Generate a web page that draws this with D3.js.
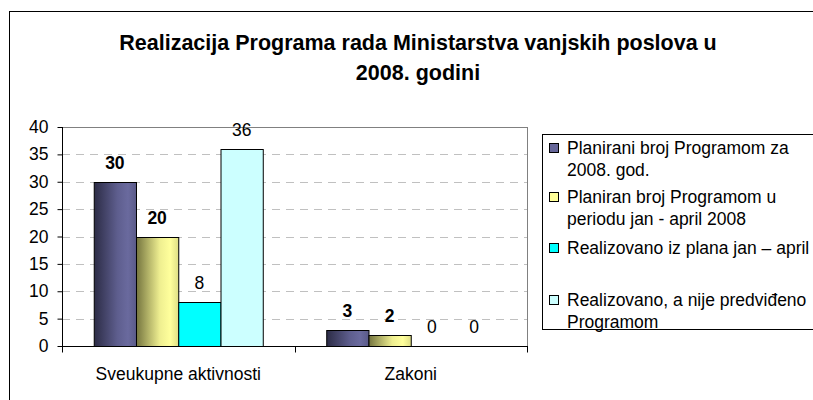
<!DOCTYPE html>
<html>
<head>
<meta charset="utf-8">
<script src="https://cdn.jsdelivr.net/npm/d3@7"></script>
<style>
  body { margin: 0; background: #fff; }
  svg text { font-family: "Liberation Sans", Arial, sans-serif; }
</style>
</head>
<body>
<div id="chart"></div>
<script>
// data
const categories = ["Sveukupne aktivnosti", "Zakoni"];
const seriesNames = [
  ["Planirani broj Programom za", "2008. god."],
  ["Planiran broj Programom u", "periodu jan - april 2008"],
  ["Realizovano iz plana jan \u2013 april"],
  ["Realizovano, a nije predviđeno", "Programom"]
];
const planGodina = [30, 3];
const planJanApril = [20, 2];
const realizovanoPlan = [8, 0];
const realizovanoVan = [36, 0];
const seriesValues = [planGodina, planJanApril, realizovanoPlan, realizovanoVan];
const yTicks = [0, 5, 10, 15, 20, 25, 30, 35, 40];
const titleLines = ["Realizacija Programa rada Ministarstva vanjskih poslova u", "2008. godini"];

const width = 813, height = 400;
const plot = { left: 62, right: 527, top: 127, bottom: 346 };

const svg = d3.select("#chart").append("svg")
  .attr("width", width)
  .attr("height", height);

// gradients for the first two series
const defs = svg.append("defs");
const grads = [
  { id: "g0", stops: [["0%", "#2c2c46"], ["55%", "#5e5e8e"], ["80%", "#6a6a9e"], ["100%", "#5a5a88"]] },
  { id: "g1", stops: [["0%", "#75753f"], ["55%", "#eeee90"], ["80%", "#ffff9c"], ["100%", "#dede84"]] }
];
grads.forEach(g => {
  const lg = defs.append("linearGradient").attr("id", g.id)
    .attr("x1", "0%").attr("x2", "100%").attr("y1", "0%").attr("y2", "0%");
  g.stops.forEach(s => lg.append("stop").attr("offset", s[0]).attr("stop-color", s[1]));
});
const fills = ["url(#g0)", "url(#g1)", "#00ffff", "#ccffff"];
const legendFills = ["#666699", "#ffff99", "#00ffff", "#ccffff"];

svg.append("rect").attr("width", width).attr("height", height).attr("fill", "#fff");
// outer chart border (runs off the right and bottom edge)
svg.append("rect")
  .attr("x", 9.5).attr("y", 11.5)
  .attr("width", width + 10).attr("height", height + 10)
  .attr("fill", "none").attr("stroke", "#000");

// title
svg.append("g").selectAll("text")
  .data(titleLines)
  .join("text")
  .attr("x", 418)
  .attr("y", (d, i) => 50 + i * 30)
  .attr("text-anchor", "middle")
  .attr("font-size", 21.5)
  .attr("font-weight", "bold")
  .text(d => d);

const y = d3.scaleLinear().domain([0, 40]).range([plot.bottom, plot.top]);
const x0 = d3.scaleBand().domain(categories).range([plot.left, plot.right])
  .paddingInner(0.273).paddingOuter(0.1365);
const x1 = d3.scaleBand().domain(d3.range(seriesValues.length)).range([0, x0.bandwidth()]);

// plot area frame
svg.append("rect")
  .attr("x", plot.left + 0.5).attr("y", plot.top + 0.5)
  .attr("width", plot.right - plot.left).attr("height", plot.bottom - plot.top)
  .attr("fill", "none").attr("stroke", "#808080");

// gridlines
svg.append("g").selectAll("line")
  .data(yTicks.filter(t => t > 0 && t < 40))
  .join("line")
  .attr("x1", plot.left).attr("x2", plot.right)
  .attr("y1", d => Math.round(y(d)) + 0.5).attr("y2", d => Math.round(y(d)) + 0.5)
  .attr("stroke", "#c0c0c0")
  .attr("stroke-dasharray", "8,6");

// bars
const groups = svg.append("g").selectAll("g")
  .data(categories)
  .join("g")
  .attr("transform", d => `translate(${x0(d)},0)`);

groups.each(function(cat, ci) {
  const g = d3.select(this);
  seriesValues.forEach((vals, si) => {
    const v = vals[ci];
    if (v > 0) {
      g.append("rect")
        .attr("x", x1(si) + 0.5)
        .attr("y", Math.round(y(v)) + 0.5)
        .attr("width", x1.bandwidth())
        .attr("height", Math.round(y(0)) - Math.round(y(v)))
        .attr("fill", fills[si])
        .attr("stroke", "#000");
    }
    g.append("text")
      .attr("x", x1(si) + x1.bandwidth() / 2)
      .attr("y", y(v) - 13)
      .attr("text-anchor", "middle")
      .attr("font-size", 17.5)
      .attr("font-weight", si < 2 ? "bold" : "normal")
      .text(v);
  });
});

// y axis
const yAxis = svg.append("g")
  .attr("transform", `translate(${plot.left + 0.5},0)`)
  .call(d3.axisLeft(y).tickValues(yTicks).tickSize(5).tickPadding(9));
yAxis.selectAll("text").attr("font-size", 17.5).attr("fill", "#000")
  .style("font-family", '"Liberation Sans", Arial, sans-serif');
yAxis.selectAll("line").attr("stroke", "#000");
yAxis.select(".domain").attr("stroke", "#000").attr("d", `M0,${plot.top}V${plot.bottom}`);

// x axis
const xAxisG = svg.append("g").attr("transform", `translate(0,${Math.round(y(0)) + 0.5})`);
xAxisG.append("line").attr("x1", plot.left).attr("x2", plot.right + 1).attr("stroke", "#000");
xAxisG.selectAll(".tk")
  .data([plot.left, (plot.left + plot.right) / 2, plot.right])
  .join("line")
  .attr("x1", d => Math.round(d) + 0.5).attr("x2", d => Math.round(d) + 0.5)
  .attr("y1", 0).attr("y2", 6)
  .attr("stroke", "#000");
xAxisG.selectAll(".cat")
  .data(categories)
  .join("text")
  .attr("x", d => x0(d) + x0.bandwidth() / 2)
  .attr("y", 33)
  .attr("text-anchor", "middle")
  .attr("font-size", 17.5)
  .text(d => d);

// legend
svg.append("rect")
  .attr("x", 542.5).attr("y", 134.5)
  .attr("width", 300).attr("height", 195)
  .attr("fill", "#fff").attr("stroke", "#000");

const legendTops = [148, 197, 248, 300];
const leg = svg.append("g").selectAll("g")
  .data(seriesNames)
  .join("g")
  .attr("transform", (d, i) => `translate(0,${legendTops[i]})`);
leg.append("rect")
  .attr("x", 549.5).attr("y", -4.5)
  .attr("width", 9).attr("height", 9)
  .attr("fill", (d, i) => legendFills[i])
  .attr("stroke", "#000");
leg.each(function(lines) {
  d3.select(this).selectAll("text")
    .data(lines)
    .join("text")
    .attr("x", 567)
    .attr("y", (d, i) => 6 + i * 22)
    .attr("font-size", 17.5)
    .text(d => d);
});
</script>
</body>
</html>
